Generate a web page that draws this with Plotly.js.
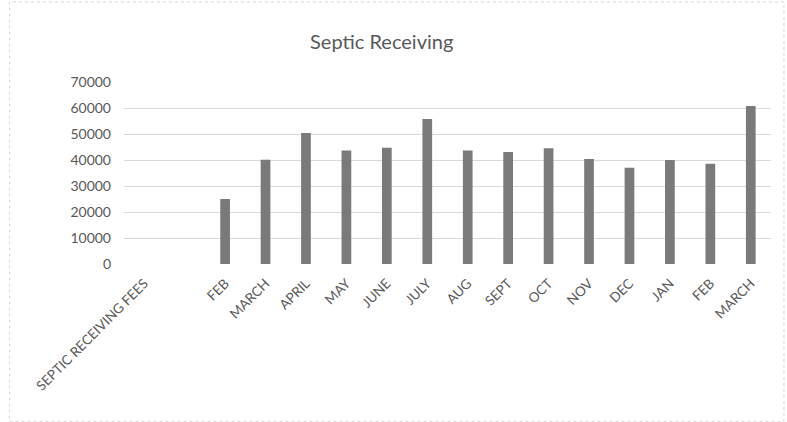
<!DOCTYPE html>
<html>
<head>
<meta charset="utf-8">
<script src="https://cdn.plot.ly/plotly-3.0.1.min.js"></script>
<style>
  html, body { margin: 0; padding: 0; background: #ffffff; }
  #chart { width: 787px; height: 422px; }
</style>
</head>
<body>
<div id="chart"></div>
<script>
// Category labels (note duplicate FEB / MARCH across two years, and one blank slot)
const categories = ["SEPTIC RECEIVING FEES", "", "FEB", "MARCH", "APRIL", "MAY", "JUNE", "JULY",
                    "AUG", "SEPT", "OCT", "NOV", "DEC", "JAN", "FEB", "MARCH"];
// Monthly septic receiving fees
const fees = [null, null, 25000, 40100, 50400, 43700, 44700, 55800,
              43700, 43100, 44500, 40400, 37000, 40000, 38600, 60800];
const yTicks = [0, 10000, 20000, 30000, 40000, 50000, 60000, 70000];

const positions = categories.map((_, i) => i);

const trace = {
  type: 'bar',
  x: positions,
  y: fees,
  marker: { color: '#7a7a7a' },
  hoverinfo: 'skip'
};

const textColor = '#595959';
const layout = {
  width: 787,
  height: 422,
  margin: { l: 124, r: 16, t: 82, b: 158 },
  paper_bgcolor: '#ffffff',
  plot_bgcolor: '#ffffff',
  font: { family: 'Lato, "Open Sans", sans-serif', color: textColor, size: 14 },
  title: {
    text: 'Septic Receiving',
    font: { family: 'Lato, "Open Sans", sans-serif', size: 20, color: textColor },
    x: 0.485, xanchor: 'center', y: 0.9, yanchor: 'middle'
  },
  bargap: 0.76,
  showlegend: false,
  xaxis: {
    type: 'linear',
    range: [-0.5, categories.length - 0.5],
    tickmode: 'array',
    tickvals: positions,
    ticktext: categories,
    tickangle: -45,
    showgrid: false,
    zeroline: false,
    showline: false,
    ticks: '',
    ticklabelstandoff: 8,
    tickfont: { size: 13.5, color: textColor }
  },
  yaxis: {
    range: [0, 70000],
    tickmode: 'array',
    tickvals: yTicks,
    ticktext: yTicks.map(String),
    showgrid: true,
    gridcolor: '#d9d9d9',
    gridwidth: 1,
    zeroline: false,
    showline: false,
    ticks: '',
    ticklabelstandoff: 12,
    tickfont: { size: 14, color: textColor }
  },
  shapes: [{
    type: 'rect', xref: 'paper', yref: 'paper',
    x0: -0.177, x1: 1.02, y0: -0.865, y1: 1.44,
    line: { color: '#d6d6d6', width: 1, dash: 'dot' },
    fillcolor: 'rgba(0,0,0,0)'
  }]
};

Plotly.newPlot('chart', [trace], layout, { displayModeBar: false, staticPlot: true });
</script>
</body>
</html>
